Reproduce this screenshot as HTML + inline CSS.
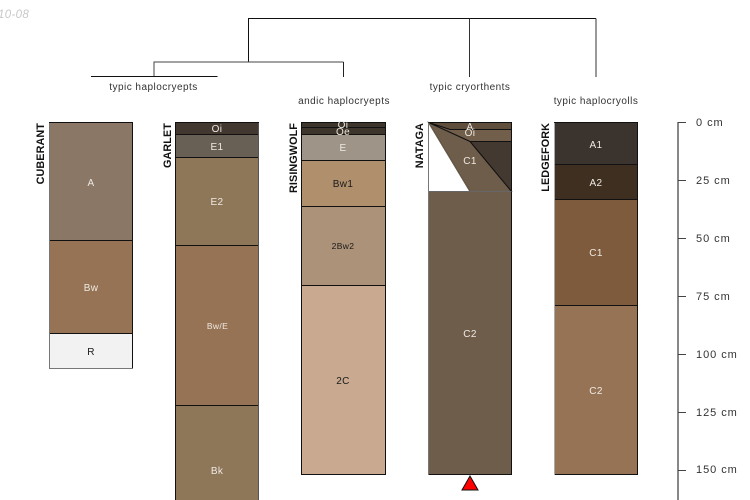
<!DOCTYPE html>
<html><head><meta charset="utf-8">
<style>
html,body{margin:0;padding:0;background:#fff}
svg{display:block}
text{font-family:"Liberation Sans",sans-serif;font-size:10px;letter-spacing:.35px}
.w{fill:#eee9e2;text-anchor:middle}
.b{fill:#1a1a1a;text-anchor:middle}
.n{font-weight:bold;fill:#111;text-anchor:end;font-size:10.8px;letter-spacing:.1px}
.t{fill:#333;text-anchor:middle;letter-spacing:.47px}
.s{fill:#333;font-size:11px;letter-spacing:.95px}
rect,polygon{stroke:#111;stroke-width:1}
</style></head><body>
<svg width="750" height="500" viewBox="0 0 750 500" xmlns="http://www.w3.org/2000/svg">
<text x="-2" y="18" style="fill:#c8c8c8;font-style:italic;font-size:11.5px">10-08</text>

<g fill="none" stroke-width="1">
<path d="M248.5 62V18.5H596" stroke="#111"/>
<path d="M469.5 18.5V77" stroke="#333"/>
<path d="M596 18.5V77" stroke="#333"/>
<path d="M154 76V62H343.5" stroke="#444"/>
<path d="M343.5 62V77" stroke="#222"/>
<path d="M91 76.5H217.5" stroke="#111"/>
</g>
<text class="t" x="153.500" y="90">typic haplocryepts</text>
<text class="t" x="344" y="104">andic haplocryepts</text>
<text class="t" x="470" y="90">typic cryorthents</text>
<text class="t" x="596" y="104">typic haplocryolls</text>

<!-- CUBERANT -->
<g shape-rendering="crispEdges">
<rect x="49.5" y="122.5" width="83" height="118" fill="#8a7766"/>
<rect x="49.5" y="240.5" width="83" height="93" fill="#967355"/>
<rect x="49.5" y="333.5" width="83" height="35" fill="#f2f2f2"/>
<path d="M49.5 123V369M49 368.5H133" stroke="#777" fill="none"/>
</g>
<text class="w" x="91" y="186">A</text>
<text class="w" x="91" y="291">Bw</text>
<text class="b" x="91" y="355">R</text>
<text class="n" transform="translate(44,123) rotate(-90)">CUBERANT</text>

<!-- GARLET -->
<g shape-rendering="crispEdges">
<rect x="175.5" y="122.5" width="83" height="12" fill="#423830"/>
<rect x="175.5" y="134.5" width="83" height="23" fill="#686054"/>
<rect x="175.5" y="157.5" width="83" height="88" fill="#8e7659"/>
<rect x="175.5" y="245.5" width="83" height="160" fill="#967355"/>
<rect x="175.5" y="405.5" width="83" height="110" fill="#8e7659"/>
<path d="M258.5 123V500" stroke="#555" fill="none"/>
</g>
<text class="w" x="217" y="132">Oi</text>
<text class="w" x="217" y="150">E1</text>
<text class="w" x="217" y="205">E2</text>
<text class="w" x="217.500" y="329" style="font-size:8.500px">Bw/E</text>
<text class="w" x="217" y="474">Bk</text>
<text class="n" transform="translate(171,123) rotate(-90)">GARLET</text>

<!-- RISINGWOLF -->
<g shape-rendering="crispEdges">
<rect x="301.5" y="122.5" width="84" height="5" fill="#3e352c"/>
<rect x="301.5" y="127.5" width="84" height="7" fill="#3e352c"/>
<rect x="301.5" y="134.5" width="84" height="26" fill="#9e9488"/>
<rect x="301.5" y="160.5" width="84" height="46" fill="#b08f6d"/>
<rect x="301.5" y="206.5" width="84" height="79" fill="#ab9278"/>
<rect x="301.5" y="285.5" width="84" height="189" fill="#c9aa90"/>
</g>
<text class="w" x="343" y="128">Oi</text>
<text class="w" x="343" y="135">Oe</text>
<text class="w" x="343" y="151">E</text>
<text class="b" x="343" y="187">Bw1</text>
<text class="b" x="343" y="249" style="font-size:8.500px">2Bw2</text>
<text class="b" x="343" y="384">2C</text>
<text class="n" transform="translate(297,123) rotate(-90)">RISINGWOLF</text>

<!-- NATAGA -->
<rect x="428.5" y="122.5" width="83" height="352" fill="#6e5d4b" shape-rendering="crispEdges"/>
<rect x="428.5" y="122.5" width="83" height="69" fill="#fff" shape-rendering="crispEdges"/>
<polygon points="428.5,122.5 511.5,122.5 511.5,129.5 450,129.5" fill="#5f4e3c"/>
<polygon points="428.5,122.5 450,129.5 511.5,129.5 511.5,141.5 470,141.5" fill="#715f4b"/>
<polygon points="470,141.5 511.5,141.5 511.5,191.5" fill="#433930"/>
<polygon points="428.5,122.5 470,141.5 511.5,191.5 470,191.5" fill="#6e5d4b"/>
<path d="M428.5 122.5L470 191.5" stroke="#6e5d4b" fill="none"/>
<path d="M428.5 191.5H511.5" stroke="#666" fill="none" shape-rendering="crispEdges"/>
<path d="M428.5 123V475" stroke="#777" fill="none" shape-rendering="crispEdges"/>
<text class="w" x="470" y="130">A</text>
<text class="w" x="470" y="136">Oi</text>
<text class="w" x="470" y="164">C1</text>
<text class="w" x="470" y="337">C2</text>
<text class="n" transform="translate(423,123) rotate(-90)">NATAGA</text>
<polygon points="470,476 478,490 462,490" fill="#ff0000" stroke="#222"/>

<!-- LEDGEFORK -->
<g shape-rendering="crispEdges">
<rect x="554.5" y="122.5" width="83" height="42" fill="#3b332d"/>
<rect x="554.5" y="164.5" width="83" height="35" fill="#3e2f21"/>
<rect x="554.5" y="199.5" width="83" height="106" fill="#7d5b3c"/>
<rect x="554.5" y="305.5" width="83" height="169" fill="#967355"/>
<path d="M554.5 123V475" stroke="#aaa" fill="none"/>
</g>
<text class="w" x="596" y="148">A1</text>
<text class="w" x="596" y="186">A2</text>
<text class="w" x="596" y="256">C1</text>
<text class="w" x="596" y="394">C2</text>
<text class="n" transform="translate(549,123) rotate(-90)">LEDGEFORK</text>

<!-- scale -->
<rect x="677" y="122" width="2" height="378" fill="#888" style="stroke:none"/>
<g fill="none" shape-rendering="crispEdges">
<path d="M678 122.5H686M678 180.5H686M678 238.5H686M678 296.5H686M678 354.5H686M678 412.5H686M678 470.5H686" stroke="#444"/>
</g>
<text class="s" x="696" y="126">0 cm</text>
<text class="s" x="696" y="184">25 cm</text>
<text class="s" x="696" y="242">50 cm</text>
<text class="s" x="696" y="300">75 cm</text>
<text class="s" x="696" y="358">100 cm</text>
<text class="s" x="696" y="416">125 cm</text>
<text class="s" x="696" y="473">150 cm</text>
</svg>
</body></html>
